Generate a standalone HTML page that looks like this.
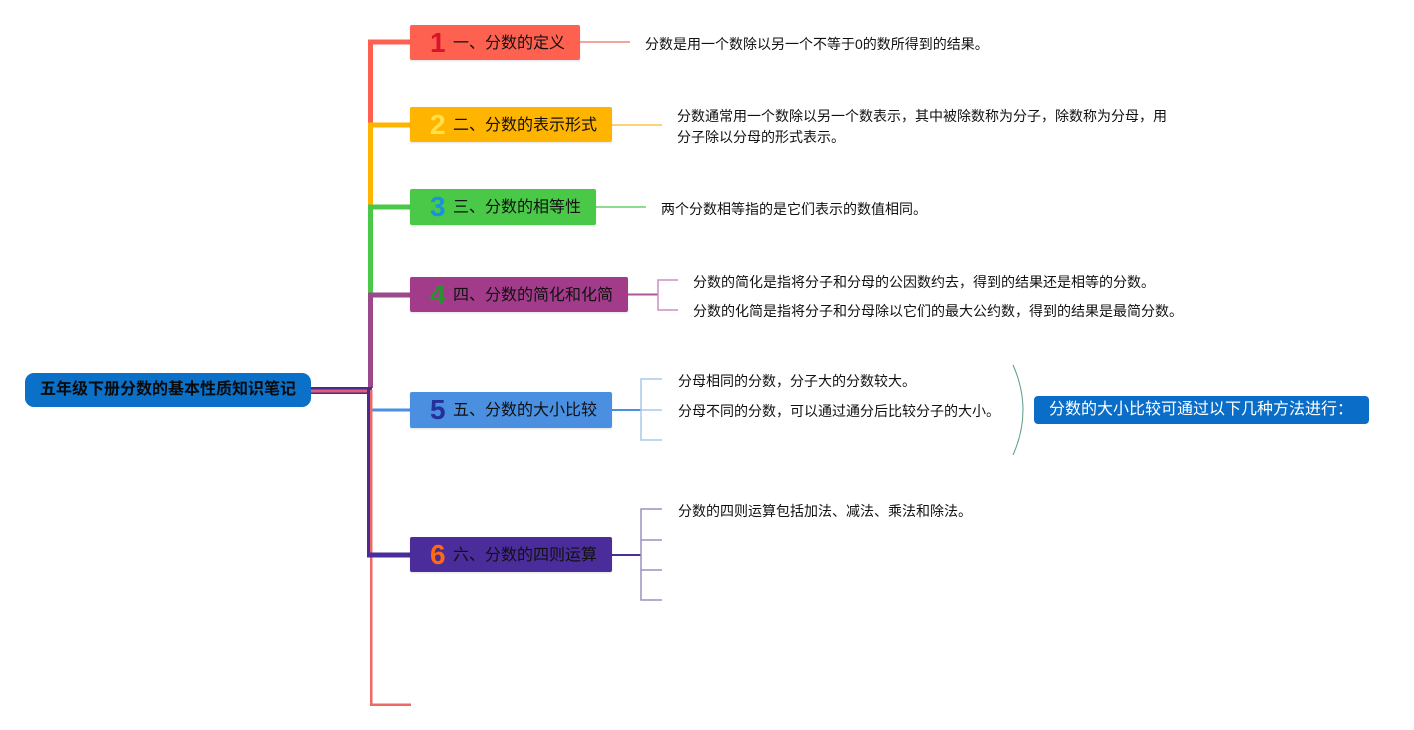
<!DOCTYPE html>
<html><head><meta charset="utf-8">
<style>
html,body{margin:0;padding:0;background:#fff;}
body{width:1414px;height:730px;position:relative;overflow:hidden;font-family:"Liberation Sans","Noto Sans CJK SC",sans-serif;}
.b{position:absolute;border-radius:2px;box-shadow:0 1px 2px rgba(0,0,0,0.12);}
.b .n{position:absolute;left:20px;top:0;font-family:"Liberation Sans",sans-serif;font-weight:bold;font-size:28px;}
.b .t{position:absolute;left:43px;top:1px;font-size:16px;color:#111;white-space:nowrap;font-family:"Liberation Sans","Noto Sans CJK SC",sans-serif;}
.d{position:absolute;font-size:14px;color:#111;white-space:nowrap;line-height:20px;font-family:"Liberation Sans","Noto Sans CJK SC",sans-serif;}
svg{position:absolute;left:0;top:0;}
</style></head><body>
<svg width="1414" height="730">
  <!-- trunk -->
  <rect x="368" y="39.5" width="42" height="5" fill="#ff6150"/>
  <rect x="368" y="39.5" width="5" height="86" fill="#ff6150"/>
  <rect x="368" y="122.5" width="42" height="5" fill="#ffb400"/>
  <rect x="368" y="125" width="5" height="83" fill="#ffb400"/>
  <rect x="368" y="204.5" width="42" height="5" fill="#4ac848"/>
  <rect x="368" y="207" width="5" height="88" fill="#4ac848"/>
  <rect x="368" y="292.5" width="42" height="5" fill="#9a4a8a"/>
  <rect x="368" y="295" width="5" height="93" fill="#9a4a8a"/>
  <!-- root connection -->
  <rect x="311" y="387" width="61" height="7" fill="#4a2a8e"/>
  <rect x="311" y="389.5" width="61" height="3" fill="#e0607a"/>
  <rect x="367" y="387" width="4" height="170" fill="#4a2a8e"/>
  <rect x="370" y="390" width="2.5" height="316" fill="#ee6864"/>
  <rect x="370" y="703.5" width="41" height="2.5" fill="#ee6864"/>
  <rect x="372.5" y="408.5" width="38" height="3" fill="#4a8fe0"/>
  <rect x="367" y="552.5" width="43" height="5" fill="#4a2c9a"/>
  <!-- detail connectors -->
  <line x1="580" y1="42" x2="630" y2="42" stroke="#e8705f" stroke-width="1.2"/>
  <line x1="612" y1="125" x2="662" y2="125" stroke="#ffd27a" stroke-width="2"/>
  <line x1="596" y1="207" x2="646" y2="207" stroke="#4cc84a" stroke-width="1.2"/>
  <line x1="628" y1="294.5" x2="658" y2="294.5" stroke="#b0559a" stroke-width="2"/>
  <path d="M678 280 H658 V310 H678" fill="none" stroke="#c890c0" stroke-width="1.5"/>
  <line x1="612" y1="410" x2="641" y2="410" stroke="#4a8fe0" stroke-width="2"/>
  <path d="M662 379 H641 V440 H662 M641 410 H662" fill="none" stroke="#a8c8ea" stroke-width="1.5"/>
  <line x1="612" y1="555" x2="641" y2="555" stroke="#4a2c9a" stroke-width="2"/>
  <path d="M662 509 H641 V600 H662 M641 540 H662 M641 570 H662" fill="none" stroke="#9a90c0" stroke-width="1.5"/>
  <path d="M1013 365 Q1033 410 1013 455" fill="none" stroke="#5a9a8e" stroke-width="1"/>
</svg>

<!-- root -->
<div style="position:absolute;left:25px;top:373px;width:286px;height:34px;background:#0a70c8;border-radius:9px;"></div>
<div style="position:absolute;left:25px;top:373px;width:286px;height:34px;line-height:34px;text-align:center;font-weight:bold;font-size:16px;color:#0a0a0a;white-space:nowrap;">五年级下册分数的基本性质知识笔记</div>

<!-- boxes -->
<div class="b" style="left:410px;top:25px;width:170px;height:35px;background:#ff6150;"><span class="n" style="color:#d9142a;line-height:35px;">1</span><span class="t" style="line-height:35px;">一、分数的定义</span></div>
<div class="b" style="left:410px;top:107px;width:202px;height:35px;background:#ffb400;"><span class="n" style="color:#ffe14d;line-height:35px;">2</span><span class="t" style="line-height:35px;">二、分数的表示形式</span></div>
<div class="b" style="left:410px;top:189px;width:186px;height:36px;background:#4ac848;"><span class="n" style="color:#1a90e0;line-height:36px;">3</span><span class="t" style="line-height:36px;">三、分数的相等性</span></div>
<div class="b" style="left:410px;top:277px;width:218px;height:35px;background:#a33b8b;"><span class="n" style="color:#22962a;line-height:35px;">4</span><span class="t" style="line-height:35px;">四、分数的简化和化简</span></div>
<div class="b" style="left:410px;top:392px;width:202px;height:36px;background:#4a8fe0;"><span class="n" style="color:#24319a;line-height:36px;">5</span><span class="t" style="line-height:36px;">五、分数的大小比较</span></div>
<div class="b" style="left:410px;top:537px;width:202px;height:35px;background:#4a2c9a;"><span class="n" style="color:#ff6a10;line-height:35px;">6</span><span class="t" style="line-height:35px;">六、分数的四则运算</span></div>

<!-- details -->
<div class="d" style="left:645px;top:34px;">分数是用一个数除以另一个不等于0的数所得到的结果。</div>
<div class="d" style="left:677px;top:106px;line-height:21px;">分数通常用一个数除以另一个数表示，其中被除数称为分子，除数称为分母，用<br>分子除以分母的形式表示。</div>
<div class="d" style="left:661px;top:199px;">两个分数相等指的是它们表示的数值相同。</div>
<div class="d" style="left:693px;top:272px;">分数的简化是指将分子和分母的公因数约去，得到的结果还是相等的分数。</div>
<div class="d" style="left:693px;top:301px;">分数的化简是指将分子和分母除以它们的最大公约数，得到的结果是最简分数。</div>
<div class="d" style="left:678px;top:371px;">分母相同的分数，分子大的分数较大。</div>
<div class="d" style="left:678px;top:401px;">分母不同的分数，可以通过通分后比较分子的大小。</div>
<div class="d" style="left:678px;top:501px;">分数的四则运算包括加法、减法、乘法和除法。</div>

<!-- blue note -->
<div style="position:absolute;left:1034px;top:396px;width:335px;height:28px;background:#0a6ec8;border-radius:4px;"></div>
<div style="position:absolute;left:1049px;top:396px;height:28px;line-height:28px;font-size:16px;color:#fff;white-space:nowrap;">分数的大小比较可通过以下几种方法进行：</div>
</body></html>
